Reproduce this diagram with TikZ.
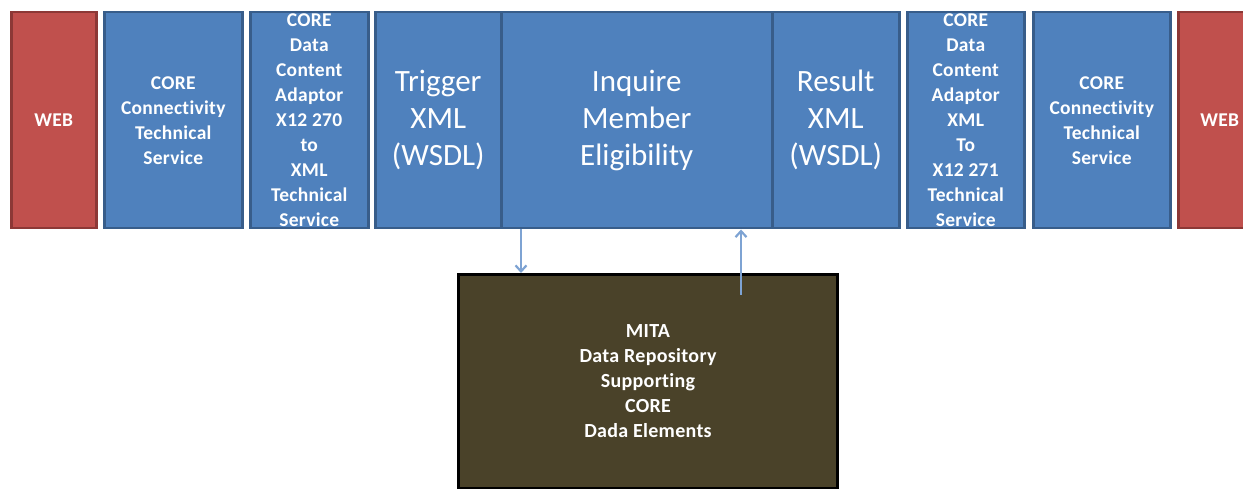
\documentclass[tikz,border=0pt]{standalone}
\usepackage{fontspec}
\setmainfont{Carlito}[Ligatures=NoCommon]
\usetikzlibrary{arrows.meta}
\definecolor{boxblue}{HTML}{4F81BD}
\definecolor{boxblueedge}{HTML}{385D8A}
\definecolor{boxred}{HTML}{C0504D}
\definecolor{boxrededge}{HTML}{8C3836}
\definecolor{mitafill}{HTML}{4A4229}
\definecolor{arrowblue}{HTML}{7EA3D3}
\definecolor{shadowgray}{HTML}{C8CCD2}
\tikzset{
  svc/.style={draw=boxblueedge, fill=boxblue, line width=2.5pt, inner sep=0pt,
    anchor=north west, minimum height=216pt, text=white, align=center,
    font=\fontsize{19.5}{25}\selectfont\bfseries\addfontfeatures{LetterSpace=1.5}},
  webbox/.style={svc, draw=boxrededge, fill=boxred},
  bigsvc/.style={svc, font=\fontsize{31}{37}\selectfont},
  mitabox/.style={draw=black, fill=mitafill, line width=3pt, inner sep=0pt,
    anchor=north west, minimum width=379pt, minimum height=214pt, text=white,
    align=center, font=\fontsize{20}{25}\selectfont\bfseries\addfontfeatures{LetterSpace=1.5}},
  flow/.style={draw=arrowblue, line width=2.2pt, -{Straight Barb[length=6pt,width=11pt,line width=2.2pt]}},
  shadowbox/.style={fill=shadowgray}
}
\begin{document}
\begin{tikzpicture}[x=1pt,y=-1pt]
\useasboundingbox (0,0) rectangle (1243,489);
\clip (0,0) rectangle (1243,489);
% shadows
\foreach \a/\b in {10/95,103/241,249/367,374/898,906/1023,1032/1169,1177/1260}
  \fill[shadowgray] (\a+2,13) rectangle (\b+2,229);
% boxes
\node[webbox, minimum width=85pt] (webL) at (10,11) {WEB};
\node[svc, minimum width=138pt] (connL) at (103,11) {CORE\\Connectivity\\Technical\\Service};
\node[svc, minimum width=118pt] (adL) at (249,11) {CORE\\Data\\Content\\Adaptor\\X12 270\\to\\XML\\Technical\\Service};
\node[bigsvc, minimum width=126pt] (trig) at (374,11) {Trigger\\XML\\(WSDL)};
\node[bigsvc, minimum width=271pt] (inq) at (500,11) {Inquire\\Member\\Eligibility};
\node[bigsvc, minimum width=127pt] (res) at (771,11) {Result\\XML\\(WSDL)};
\node[svc, minimum width=117pt] (adR) at (906,11) {CORE\\Data\\Content\\Adaptor\\XML\\To\\X12 271\\Technical\\Service};
\node[svc, minimum width=137pt] (connR) at (1032,11) {CORE\\Connectivity\\Technical\\Service};
\node[webbox, minimum width=83pt] (webR) at (1177,11) {WEB};
% MITA
\node[mitabox] (mita) at (457,273) {MITA\\Data Repository\\Supporting\\CORE\\Dada Elements};
% connectors
\coordinate (upstart) at (741,295);
\draw[flow] (inq.south west -| 521,0) -- (mita.north -| 521,0);
\draw[flow] (upstart) -- (inq.south -| upstart);
\end{tikzpicture}
\end{document}
